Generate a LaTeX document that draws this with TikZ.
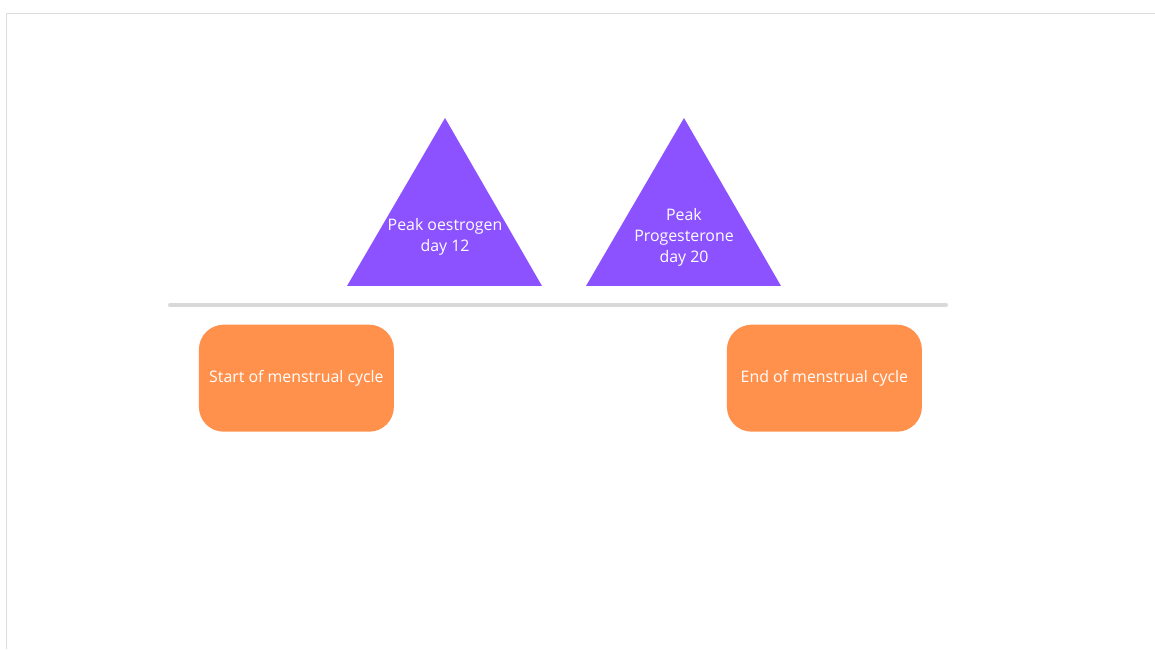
\documentclass[tikz,border=0pt]{standalone}
\usepackage{fontspec}
\setmainfont{Open Sans}
\usetikzlibrary{shapes.geometric, positioning}
\definecolor{peakpurple}{HTML}{8C52FF}
\definecolor{phaseorange}{HTML}{FF914D}
\definecolor{axisgray}{HTML}{D9D9D9}
\definecolor{framegray}{HTML}{DDDDDD}
\tikzset{
    peak/.style={fill=peakpurple},
    peaklbl/.style={text=white, align=center, inner sep=0pt,
                    font=\fontsize{11.3}{14.9}\selectfont},
    phasebox/.style={rectangle, rounded corners=0.62cm, fill=phaseorange,
                     minimum width=4.875cm, minimum height=2.675cm,
                     text=white, align=center, font=\fontsize{11.3}{14.9}\selectfont},
    timeline/.style={line width=3.5pt, draw=axisgray, line cap=round},
}
\begin{document}
\begin{tikzpicture}
    \useasboundingbox (0,0) rectangle (28.875,16.225);
    % page frame
    \draw[framegray, line width=0.7pt] (0.15,0) -- (0.15,15.875) -- (28.875,15.875);
    % peaks
    \fill[peak] (8.675, 9.075) -- (11.125, 13.275) -- (13.55, 9.075) -- cycle;
    \fill[peak] (14.65, 9.075) -- (17.1, 13.275) -- (19.525, 9.075) -- cycle;
    \node[peaklbl] (oest) at (11.125, 10.31) {Peak oestrogen\\day 12};
    \node[peaklbl] (prog) at (17.1, 10.30) {Peak\\Progesterone\\day 20};
    \coordinate (tstart) at (4.26, 8.6);
    \coordinate (tend) at (23.64, 8.6);
    \draw[timeline] (tstart) -- (tend);
    \node[phasebox] (start) at (7.41, 6.77) {Start of menstrual cycle};
    \node[phasebox] (end) at (20.61, 6.77) {End of menstrual cycle};
\end{tikzpicture}
\end{document}
